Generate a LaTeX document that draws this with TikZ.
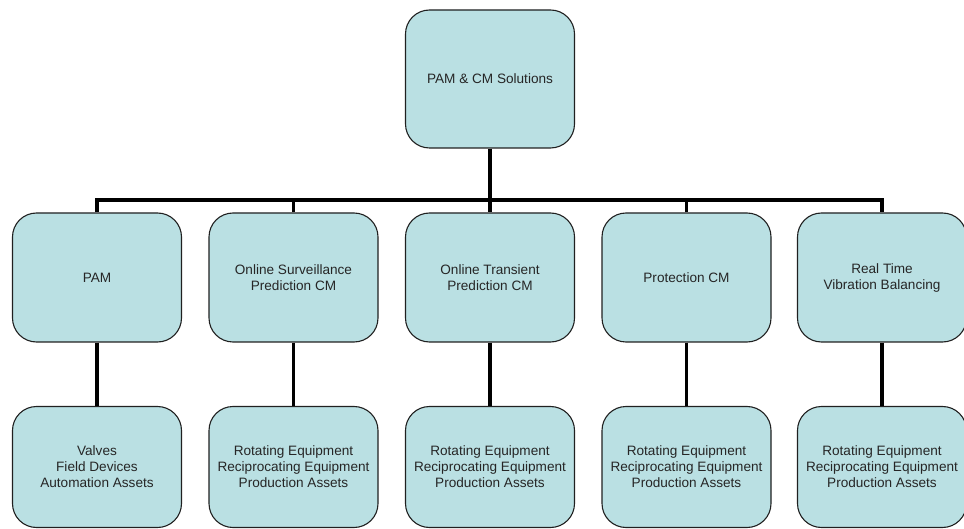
\documentclass[tikz,border=0pt]{standalone}
\usepackage{fontspec}
\setmainfont{Liberation Sans}
\definecolor{boxfill}{HTML}{BAE0E3}
\definecolor{boxline}{HTML}{202020}
\begin{document}
\begin{tikzpicture}[x=1pt,y=1pt,
  box/.style={draw=boxline, line width=1.1pt, fill=boxfill, rounded corners=24pt,
    minimum width=169pt, inner sep=0pt, align=center,
    font=\fontsize{13.6}{16}\selectfont, text=black!85},
  topbox/.style={box, minimum height=138pt},
  midbox/.style={box, minimum height=129pt},
  botbox/.style={box, minimum height=121pt},
  conn/.style={line width=3.6pt, black}]
\useasboundingbox (0,0) rectangle (964,-529);
\node[topbox] (top) at (490,-79) {PAM \& CM Solutions};
\node[midbox] (m1) at (97,-277.5) {PAM};
\node[midbox] (m2) at (293.5,-277.5) {Online Surveillance\\Prediction CM};
\node[midbox] (m3) at (490,-277.5) {Online Transient\\Prediction CM};
\node[midbox] (m4) at (686.5,-277.5) {Protection CM};
\node[midbox] (m5) at (882,-277.5) {Real Time\\Vibration Balancing};
\node[botbox] (b1) at (97,-467) {Valves\\Field Devices\\Automation Assets};
\node[botbox] (b2) at (293.5,-467) {Rotating Equipment\\Reciprocating Equipment\\Production Assets};
\node[botbox] (b3) at (490,-467) {Rotating Equipment\\Reciprocating Equipment\\Production Assets};
\node[botbox] (b4) at (686.5,-467) {Rotating Equipment\\Reciprocating Equipment\\Production Assets};
\node[botbox] (b5) at (882,-467) {Rotating Equipment\\Reciprocating Equipment\\Production Assets};
\coordinate (bus) at (490,-200);
\draw[conn] (top.south) -- (m3.north);
\draw[conn] (m1.north) |- (bus) -| (m5.north);
\draw[conn] (m2.north) -- (m2.north |- bus);
\draw[conn] (m4.north) -- (m4.north |- bus);
\foreach \i in {1,...,5}{\draw[conn] (m\i.south) -- (b\i.north);}
\end{tikzpicture}
\end{document}
